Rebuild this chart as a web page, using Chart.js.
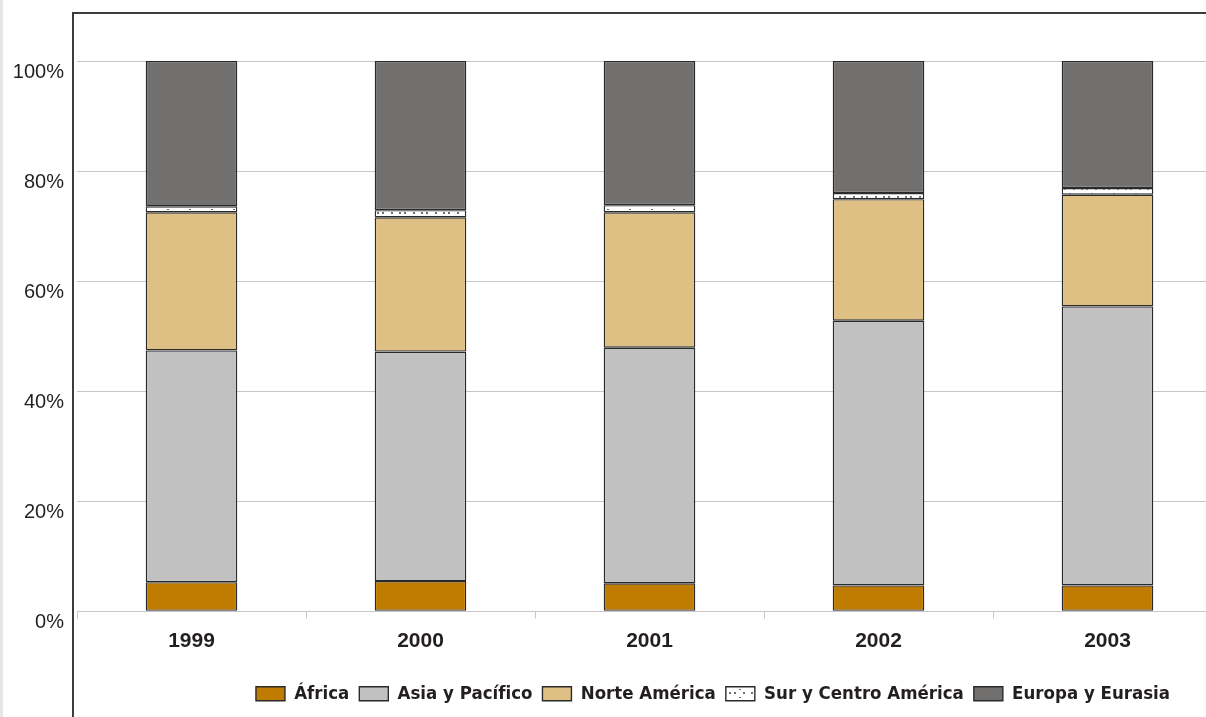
<!DOCTYPE html>
<html lang="es">
<head>
<meta charset="UTF-8">
<title>Participación regional</title>
<script src="https://cdn.jsdelivr.net/npm/chart.js"></script>
<style>
  html, body { margin: 0; padding: 0; background: #fff; overflow: hidden; }
  #wrap { position: relative; width: 1222px; height: 717px; }
</style>
</head>
<body>
<div id="wrap"><canvas id="myChart"></canvas></div>
<script>
// datos (porcentaje de cada region por año)
const years = ['1999', '2000', '2001', '2002', '2003'];
const africa = [5.3, 5.5, 5.1, 4.7, 4.7];
const asiaPacifico = [42.1, 41.7, 42.8, 48.1, 50.7];
const norteAmerica = [25.1, 24.4, 24.6, 22.1, 20.3];
const surCentroAmerica = [1.1, 1.3, 1.3, 1.1, 1.2];
const europaEurasia = [26.4, 27.1, 26.2, 24.0, 23.1];
const yTicks = [0, 20, 40, 60, 80, 100];

// trama de puntos para Sur y Centro America
function dotPattern() {
    const c = document.createElement('canvas');
    c.width = 22; c.height = 8;
    const g = c.getContext('2d');
    g.fillStyle = '#ffffff';
    g.fillRect(0, 0, 22, 8);
    g.fillStyle = '#6e6e6e';
    g.fillRect(3, 4, 2, 2);
    g.fillRect(8, 4, 2, 2);
    g.fillRect(13, 1, 2, 1);
    g.fillRect(17, 4, 2, 2);
    return g.createPattern(c, 'repeat');
}

const frame = {
    id: 'frame',
    beforeDraw(chart) {
        const c = chart.ctx;
        c.save();
        c.strokeStyle = '#3c3c3c';
        c.lineWidth = 2;
        c.beginPath();
        c.moveTo(73, 800);
        c.lineTo(73, 13);
        c.lineTo(1300, 13);
        c.stroke();
        c.strokeStyle = '#e6e6e6';
        c.lineWidth = 3;
        c.beginPath();
        c.moveTo(1.5, 0);
        c.lineTo(1.5, 717);
        c.stroke();
        c.restore();
    }
};

// centra la leyenda como en el original
const legendShift = {
    id: 'legendShift',
    afterLayout(chart) {
        const lg = chart.legend;
        const dx = 713 - (lg.left + lg.right) / 2;
        lg.left += dx;
        lg.right += dx;
    }
};

const border = '#2a2a2a';
const common = { borderColor: border, borderWidth: 1.4, borderSkipped: false, barPercentage: 0.4, categoryPercentage: 1 };

const ctx = document.getElementById('myChart').getContext('2d');
const myChart = new Chart(ctx, {
    type: 'bar',
    data: {
        labels: years,
        datasets: [
            { label: 'África', data: africa, backgroundColor: '#c07c00', ...common },
            { label: 'Asia y Pacífico', data: asiaPacifico, backgroundColor: '#c1c1c1', ...common },
            { label: 'Norte América', data: norteAmerica, backgroundColor: '#dfc084', ...common },
            { label: 'Sur y Centro América', data: surCentroAmerica, backgroundColor: dotPattern(), ...common },
            { label: 'Europa y Eurasia', data: europaEurasia, backgroundColor: '#72706e', ...common }
        ]
    },
    options: {
        responsive: true,
        maintainAspectRatio: false,
        animation: false,
        layout: { padding: { top: 61, left: 0, right: 0, bottom: 4 } },
        plugins: {
            tooltip: { enabled: false },
            legend: {
                position: 'bottom',
                labels: {
                    boxWidth: 29,
                    boxHeight: 14,
                    padding: 10,
                    color: '#231f20',
                    font: { family: "'DejaVu Sans Condensed', sans-serif", size: 18.5, weight: 'bold' }
                }
            }
        },
        scales: {
            x: {
                stacked: true,
                afterFit(scale) { scale.height += 11; },
                grid: { display: true, drawOnChartArea: false, drawTicks: true, tickLength: 7, offset: true, color: '#c6c6c6' },
                border: { display: false },
                ticks: {
                    padding: 10,
                    color: '#231f20',
                    font: { family: "'Liberation Sans', sans-serif", size: 21, weight: 'bold' }
                }
            },
            y: {
                stacked: true,
                min: 0,
                max: 100,
                afterFit(scale) { scale.width = 77; },
                afterBuildTicks(scale) { scale.ticks = yTicks.map(v => ({ value: v })); },
                grid: { color: '#c6c6c6', drawTicks: false },
                border: { display: false },
                ticks: {
                    padding: 13,
                    labelOffset: 11,
                    color: '#231f20',
                    font: { family: "'Liberation Sans', sans-serif", size: 20 },
                    callback: v => v + '%'
                }
            }
        }
    },
    plugins: [frame, legendShift]
});
</script>
</body>
</html>
